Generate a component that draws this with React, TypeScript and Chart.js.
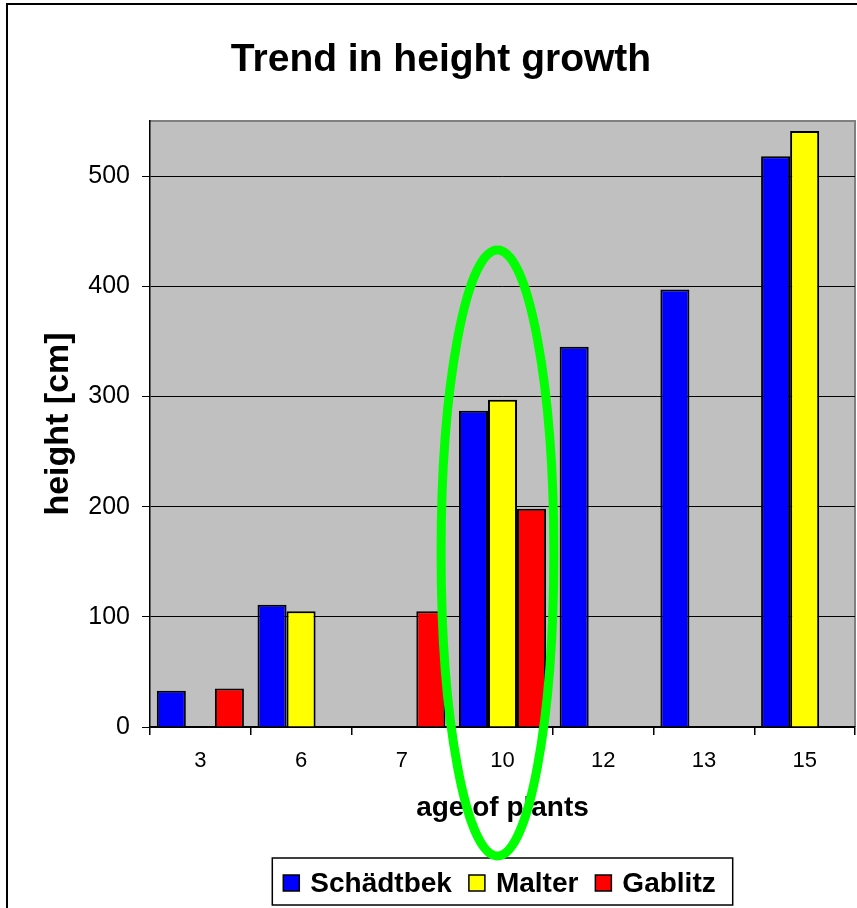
import React, { useEffect, useRef } from 'react';
import { Chart, registerables } from 'chart.js';

Chart.register(...registerables);

// ---- data ----
const categories = ['3', '6', '7', '10', '12', '13', '15'];
const seriesNames = ['Schädtbek', 'Malter', 'Gablitz'];
const schaedtbekValues = [33, 111, null, 287, 345, 397, 518];
const malterValues = [null, 105, null, 297, null, null, 541];
const gablitzValues = [35, null, 105, 198, null, null, null];
const seriesColors = ['#0000FF', '#FFFF00', '#FF0000'];
const yTickValues = [0, 100, 200, 300, 400, 500];
const yMax = 550;
const chartTitle = 'Trend in height growth';
const xAxisTitle = 'age of plants';
const yAxisTitle = 'height [cm]';
// green highlight ellipse around age 10 (in data terms)
const highlightCategory = '10';
const highlightCenterShift = -0.05; // in category widths
const highlightCenterValue = 158;
const highlightHalfHeight = 275;
const highlightHalfWidth = 0.56; // in category widths

const FONT = '"Liberation Sans", Arial, Helvetica, sans-serif';

const decorPlugin = {
  id: 'decor',
  beforeDraw(chart: any) {
    const { ctx, chartArea: a } = chart;
    ctx.save();
    ctx.fillStyle = '#FFFFFF';
    ctx.fillRect(0, 0, chart.width, chart.height);
    ctx.fillStyle = '#C0C0C0';
    ctx.fillRect(a.left, a.top, a.right - a.left, a.bottom - a.top);
    ctx.strokeStyle = '#808080';
    ctx.lineWidth = 2;
    ctx.beginPath();
    ctx.moveTo(a.left, a.top);
    ctx.lineTo(a.right, a.top);
    ctx.lineTo(a.right, a.bottom);
    ctx.stroke();
    ctx.restore();
  },
  afterDraw(chart: any) {
    const { ctx, chartArea: a } = chart;
    ctx.save();
    // outer frame
    ctx.strokeStyle = '#000';
    ctx.lineWidth = 2;
    ctx.strokeRect(7, 4, 1000, 1000);

    // title
    ctx.fillStyle = '#000';
    ctx.font = `bold 39px ${FONT}`;
    ctx.textAlign = 'center';
    ctx.textBaseline = 'alphabetic';
    ctx.fillText(chartTitle, 441, 71);

    // legend
    ctx.font = `bold 28px ${FONT}`;
    const sq = 16, gapText = 11, itemGap = 17, padL = 11, padR = 17;
    const widths = seriesNames.map((n) => ctx.measureText(n).width);
    const total = padL + padR + widths.reduce((s, w) => s + sq + gapText + w, 0) + itemGap * (seriesNames.length - 1);
    const cx = (a.left + a.right) / 2;
    const boxL = cx - total / 2;
    const boxT = 858, boxB = 905;
    ctx.fillStyle = '#FFFFFF';
    ctx.fillRect(boxL, boxT, total, boxB - boxT);
    ctx.strokeStyle = '#000';
    ctx.lineWidth = 1.5;
    ctx.strokeRect(boxL, boxT, total, boxB - boxT);
    let x = boxL + padL;
    ctx.textAlign = 'left';
    seriesNames.forEach((n, i) => {
      ctx.fillStyle = seriesColors[i];
      ctx.fillRect(x, 875, sq, sq);
      ctx.strokeStyle = '#000';
      ctx.lineWidth = 1.5;
      ctx.strokeRect(x, 875, sq, sq);
      ctx.fillStyle = '#000';
      ctx.fillText(n, x + sq + gapText, 892);
      x += sq + gapText + widths[i] + itemGap;
    });

    // highlight ellipse
    const xs = chart.scales.x;
    const ys = chart.scales.y;
    const idx = categories.indexOf(highlightCategory);
    const catW = xs.getPixelForValue(1) - xs.getPixelForValue(0);
    const ecx = xs.getPixelForValue(idx) + catW * highlightCenterShift;
    const ecy = ys.getPixelForValue(highlightCenterValue);
    const ery = ys.getPixelForValue(0) - ys.getPixelForValue(highlightHalfHeight);
    ctx.strokeStyle = '#00FF00';
    ctx.lineWidth = 9;
    ctx.beginPath();
    ctx.ellipse(ecx, ecy, catW * highlightHalfWidth, ery, 0, 0, Math.PI * 2);
    ctx.stroke();
    ctx.restore();
  },
};

export default function App() {
  const ref = useRef<HTMLCanvasElement>(null);
  useEffect(() => {
    if (!ref.current) return;
    Chart.defaults.font.family = FONT;
    const chart = new Chart(ref.current, {
      type: 'bar',
      data: {
        labels: categories,
        datasets: [schaedtbekValues, malterValues, gablitzValues].map((d, i) => ({
          label: seriesNames[i],
          data: d,
          backgroundColor: seriesColors[i],
          borderColor: '#000',
          borderWidth: 2,
          categoryPercentage: 0.865,
          barPercentage: 1,
        })) as any,
      },
      options: {
        responsive: false,
        animation: false,
        layout: { padding: { left: 0, top: 121, right: 2, bottom: 61 } },
        plugins: {
          legend: { display: false },
          title: { display: false },
          tooltip: { enabled: false },
        },
        scales: {
          x: {
            grid: {
              offset: true,
              drawOnChartArea: false,
              drawTicks: true,
              tickLength: 8,
              color: '#000',
              lineWidth: 1.5,
            },
            border: { display: true, color: '#000', width: 1.5 },
            ticks: { color: '#000', font: { size: 22, family: FONT }, padding: 13, maxRotation: 0, autoSkip: false },
            title: {
              display: true,
              text: xAxisTitle,
              color: '#000',
              font: { size: 28, weight: 'bold', family: FONT },
              padding: { top: 0, bottom: 22 },
            },
            afterFit: (s: any) => { s.height = 120; },
          },
          y: {
            min: 0,
            max: yMax,
            afterBuildTicks: (s: any) => { s.ticks = yTickValues.map((v) => ({ value: v })); },
            grid: { color: '#000', lineWidth: 1, tickLength: 8, drawTicks: true },
            border: { display: true, color: '#000', width: 1.5 },
            ticks: { color: '#000', font: { size: 25, family: FONT }, padding: 12 },
            title: {
              display: true,
              text: yAxisTitle,
              color: '#000',
              font: { size: 34, weight: 'bold', family: FONT },
              padding: { top: 38, bottom: 0 },
            },
            afterFit: (s: any) => { s.width = 150; },
          },
        },
      },
      plugins: [decorPlugin],
    });
    return () => chart.destroy();
  }, []);
  return (
    <div style={{ position: 'absolute', left: 0, top: 0, width: 857, height: 908 }}>
      <canvas ref={ref} width={857} height={908} style={{ width: 857, height: 908, display: 'block' }} />
    </div>
  );
}
